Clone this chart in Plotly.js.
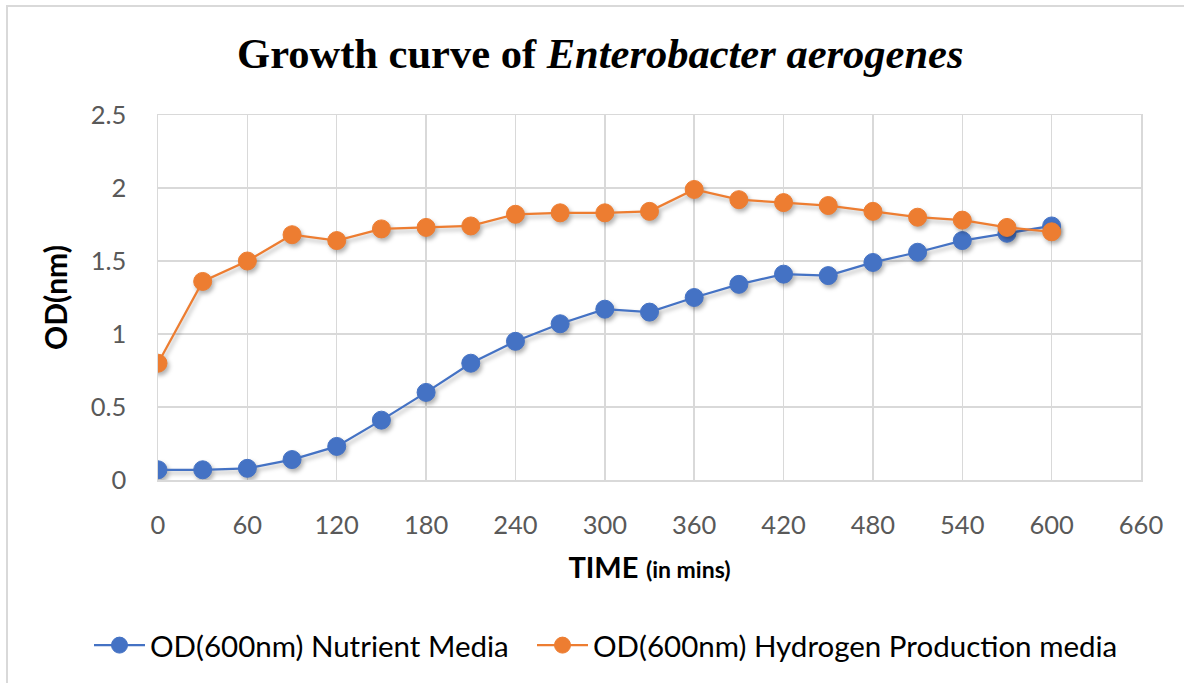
<!DOCTYPE html>
<html>
<head>
<meta charset="utf-8">
<script src="https://cdn.plot.ly/plotly-3.0.1.min.js"></script>
<style>
  html, body { margin: 0; padding: 0; background: #ffffff; overflow: hidden; }
  #wrap { position: relative; width: 1184px; height: 683px; }
  #chart { position: absolute; left: 0; top: 0; width: 1184px; height: 683px; }
  /* chart-area frame, open on the right and bottom edges */
  #frame { position: absolute; left: 6px; top: 5px; width: 1200px; height: 700px;
           border: 2px solid #d9d9d9; pointer-events: none; }
  /* soft drop shadow under lines and markers */
  #chart .scatterlayer .trace { filter: drop-shadow(2px 3px 2px rgba(0,0,0,0.30)); }
</style>
</head>
<body>
<div id="wrap">
  <div id="chart"></div>
  <div id="frame"></div>
</div>
<script>
// Sampling times (minutes)
const timeMins = [0, 30, 60, 90, 120, 150, 180, 210, 240, 270, 300, 330, 360, 390, 420, 450, 480, 510, 540, 570, 600];

// OD readings at 600 nm
const odNutrient = [0.07, 0.07, 0.08, 0.14, 0.23, 0.41, 0.60, 0.80, 0.95, 1.07, 1.17, 1.15, 1.25, 1.34, 1.41, 1.40, 1.49, 1.56, 1.64, 1.69, 1.74];
const odHydrogen = [0.80, 1.36, 1.50, 1.68, 1.64, 1.72, 1.73, 1.74, 1.82, 1.83, 1.83, 1.84, 1.99, 1.92, 1.90, 1.88, 1.84, 1.80, 1.78, 1.73, 1.70];

const seriesNames = ['OD(600nm) Nutrient Media', 'OD(600nm) Hydrogen Production media'];
const xTicks = [0, 60, 120, 180, 240, 300, 360, 420, 480, 540, 600, 660];
const yTicks = [0, 0.5, 1, 1.5, 2, 2.5];

const BLUE = '#4472C4';
const ORANGE = '#ED7D31';
const GRID = '#d9d9d9';
const SANS = 'Lato, "Open Sans", sans-serif';

const traces = [
  {
    x: timeMins, y: odNutrient, name: seriesNames[0], legend: 'legend',
    type: 'scatter', mode: 'lines+markers',
    line: { color: BLUE, width: 2.25 },
    marker: { color: BLUE, size: 18, line: { color: BLUE, width: 1 } }
  },
  {
    x: timeMins, y: odHydrogen, name: seriesNames[1], legend: 'legend2',
    type: 'scatter', mode: 'lines+markers',
    line: { color: ORANGE, width: 2.25 },
    marker: { color: ORANGE, size: 18, line: { color: ORANGE, width: 1 } }
  }
];

// one single-entry legend per series, side by side under the plot
function legendAt(xFrac) {
  return {
    orientation: 'h',
    xref: 'container', x: xFrac, xanchor: 'left',
    yref: 'container', y: 0.055, yanchor: 'middle',
    font: { family: SANS, size: 29.5, color: '#000000' },
    itemwidth: 51,
    bgcolor: 'rgba(0,0,0,0)'
  };
}

const layout = {
  width: 1184, height: 683,
  paper_bgcolor: '#ffffff', plot_bgcolor: '#ffffff',
  margin: { l: 158, r: 43, t: 115, b: 203 },
  showlegend: true,
  title: {
    text: '<b>Growth curve of <i>Enterobacter aerogenes</i></b>',
    font: { family: '"Liberation Serif", "Times New Roman", serif', size: 42.5, color: '#000000' },
    xref: 'container', x: 0.507, xanchor: 'center',
    yref: 'container', y: 0.922, yanchor: 'middle'
  },
  xaxis: {
    range: [0, 660], tickmode: 'array', tickvals: xTicks,
    showgrid: true, gridcolor: GRID, gridwidth: 1.5,
    showline: true, linecolor: GRID, linewidth: 1.5, mirror: true,
    zeroline: false, ticks: '',
    ticklabelstandoff: 22,
    tickfont: { family: SANS, size: 25.5, color: '#595959' },
    title: {
      text: '<b>TIME</b> <b><span style="font-size:23px">(in mins)</span></b>',
      font: { family: SANS, size: 29, color: '#000000' },
      standoff: 19
    }
  },
  yaxis: {
    range: [0, 2.5], tickmode: 'array', tickvals: yTicks,
    showgrid: true, gridcolor: GRID, gridwidth: 1.5,
    showline: true, linecolor: GRID, linewidth: 1.5, mirror: true,
    zeroline: false, ticks: '',
    ticklabelstandoff: 25,
    tickfont: { family: SANS, size: 25.5, color: '#595959' },
    title: {
      text: '<b>OD(nm)</b>',
      font: { family: SANS, size: 30, color: '#000000' },
      standoff: 14
    }
  },
  legend: legendAt(89 / 1184),
  legend2: legendAt(532 / 1184)
};

Plotly.newPlot('chart', traces, layout, { displayModeBar: false, staticPlot: true });
</script>
</body>
</html>
